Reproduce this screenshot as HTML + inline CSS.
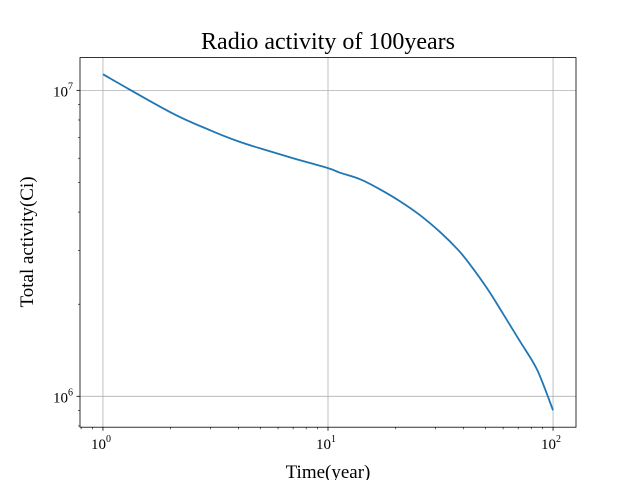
<!DOCTYPE html>
<html><head><meta charset="utf-8"><style>
body{margin:0;background:#fff}
svg{display:block;font-family:"Liberation Serif",serif}
</style></head><body>
<svg id="chart" width="640" height="480">
<rect width="640" height="480" fill="#fff"/>
<text x="328" y="49" text-anchor="middle" font-size="24">Radio activity of 100years</text>
<g id="grid"></g>
<g id="series"></g>
<rect x="80" y="57.6" width="496" height="369.6" fill="none" stroke="#000" stroke-width="0.8"/>
<g id="ticks"></g>
<text x="328" y="478" text-anchor="middle" font-size="19">Time(year)</text>
<text transform="translate(33,242) rotate(-90)" text-anchor="middle" font-size="19">Total activity(Ci)</text>
</svg>
<script>
const years=[1,2,3,4,5,7,10,11.3,13.9,17,21,25.6,31.5,38,43,51,60,71,85,100];
const activity=[1.128e7,8.47e6,7.40e6,6.81e6,6.46e6,6.0e6,5.57e6,5.38e6,5.12e6,4.75e6,4.33e6,3.91e6,3.44e6,3.0e6,2.68e6,2.25e6,1.86e6,1.52e6,1.22e6,9.0e5];
const xMajor=[1,10,100];
const xLabels=["0","1","2"];
const yMajor=[1e6,1e7];
const yLabels=["6","7"];
const NS="http://www.w3.org/2000/svg";
const x0=80,x1=576,y0=57.6,y1=427.2;
const lxmin=-0.102,lxmax=2.102,lymin=5.899,lymax=7.107;
function xs(v){return x0+(Math.log10(v)-lxmin)/(lxmax-lxmin)*(x1-x0);}
function ys(v){return y1-(Math.log10(v)-lymin)/(lymax-lymin)*(y1-y0);}
function mk(t,a,p){const e=document.createElementNS(NS,t);for(const k in a)e.setAttribute(k,a[k]);p.appendChild(e);return e;}
const grid=document.getElementById('grid'),ticks=document.getElementById('ticks'),ser=document.getElementById('series');
xMajor.forEach((v,i)=>{const x=xs(v);
 const g=mk('line',{x1:x,x2:x,y1:y0,y2:y1,stroke:'#b0b0b0','stroke-width':0.8},grid);
 
 
 mk('line',{x1:x,x2:x,y1:y1,y2:y1+3.5,stroke:'#000','stroke-width':0.8},ticks);
 const t=mk('text',{x:x-2,y:y1+22,'text-anchor':'middle','font-size':15},ticks);
 
 
 t.innerHTML='10<tspan font-size="10" dy="-7">'+xLabels[i]+'</tspan>';
});
for(let d=0.1;d<=100;d*=10)for(let m=2;m<=9;m++){const v=d*m;const x=xs(v);if(x<x0||x>x1)continue;
 mk('line',{x1:x,x2:x,y1:y1,y2:y1+2,stroke:'#000','stroke-width':0.6},ticks);}
yMajor.forEach((v,i)=>{const y=ys(v);
 const g=mk('line',{x1:x0,x2:x1,y1:y,y2:y,stroke:'#b0b0b0','stroke-width':0.8},grid);
 
 
 mk('line',{x1:x0-3.5,x2:x0,y1:y,y2:y,stroke:'#000','stroke-width':0.8},ticks);
 const t=mk('text',{x:x0-7,y:y+6,'text-anchor':'end','font-size':15},ticks);
 
 
 t.innerHTML='10<tspan font-size="10" dy="-7">'+yLabels[i]+'</tspan>';
});
for(let d=1e5;d<=1e7;d*=10)for(let m=2;m<=9;m++){const y=ys(d*m);if(y<y0||y>y1)continue;
 mk('line',{x1:x0-2,x2:x0,y1:y,y2:y,stroke:'#000','stroke-width':0.6},ticks);}
const P=years.map((v,i)=>[xs(v),ys(activity[i])]);
let d='M'+P[0][0].toFixed(1)+','+P[0][1].toFixed(1);
for(let i=0;i<P.length-1;i++){
 const p0=P[Math.max(i-1,0)],p1=P[i],p2=P[i+1],p3=P[Math.min(i+2,P.length-1)];
 const c1=[p1[0]+(p2[0]-p0[0])/6,p1[1]+(p2[1]-p0[1])/6];
 const c2=[p2[0]-(p3[0]-p1[0])/6,p2[1]-(p3[1]-p1[1])/6];
 d+=' C'+c1[0].toFixed(1)+','+c1[1].toFixed(1)+' '+c2[0].toFixed(1)+','+c2[1].toFixed(1)+' '+p2[0].toFixed(1)+','+p2[1].toFixed(1);
}
const line=mk('path',{d:d,fill:'none',stroke:'#1f77b4','stroke-width':1.8,'stroke-linejoin':'round'},ser);


</script>
</body></html>
